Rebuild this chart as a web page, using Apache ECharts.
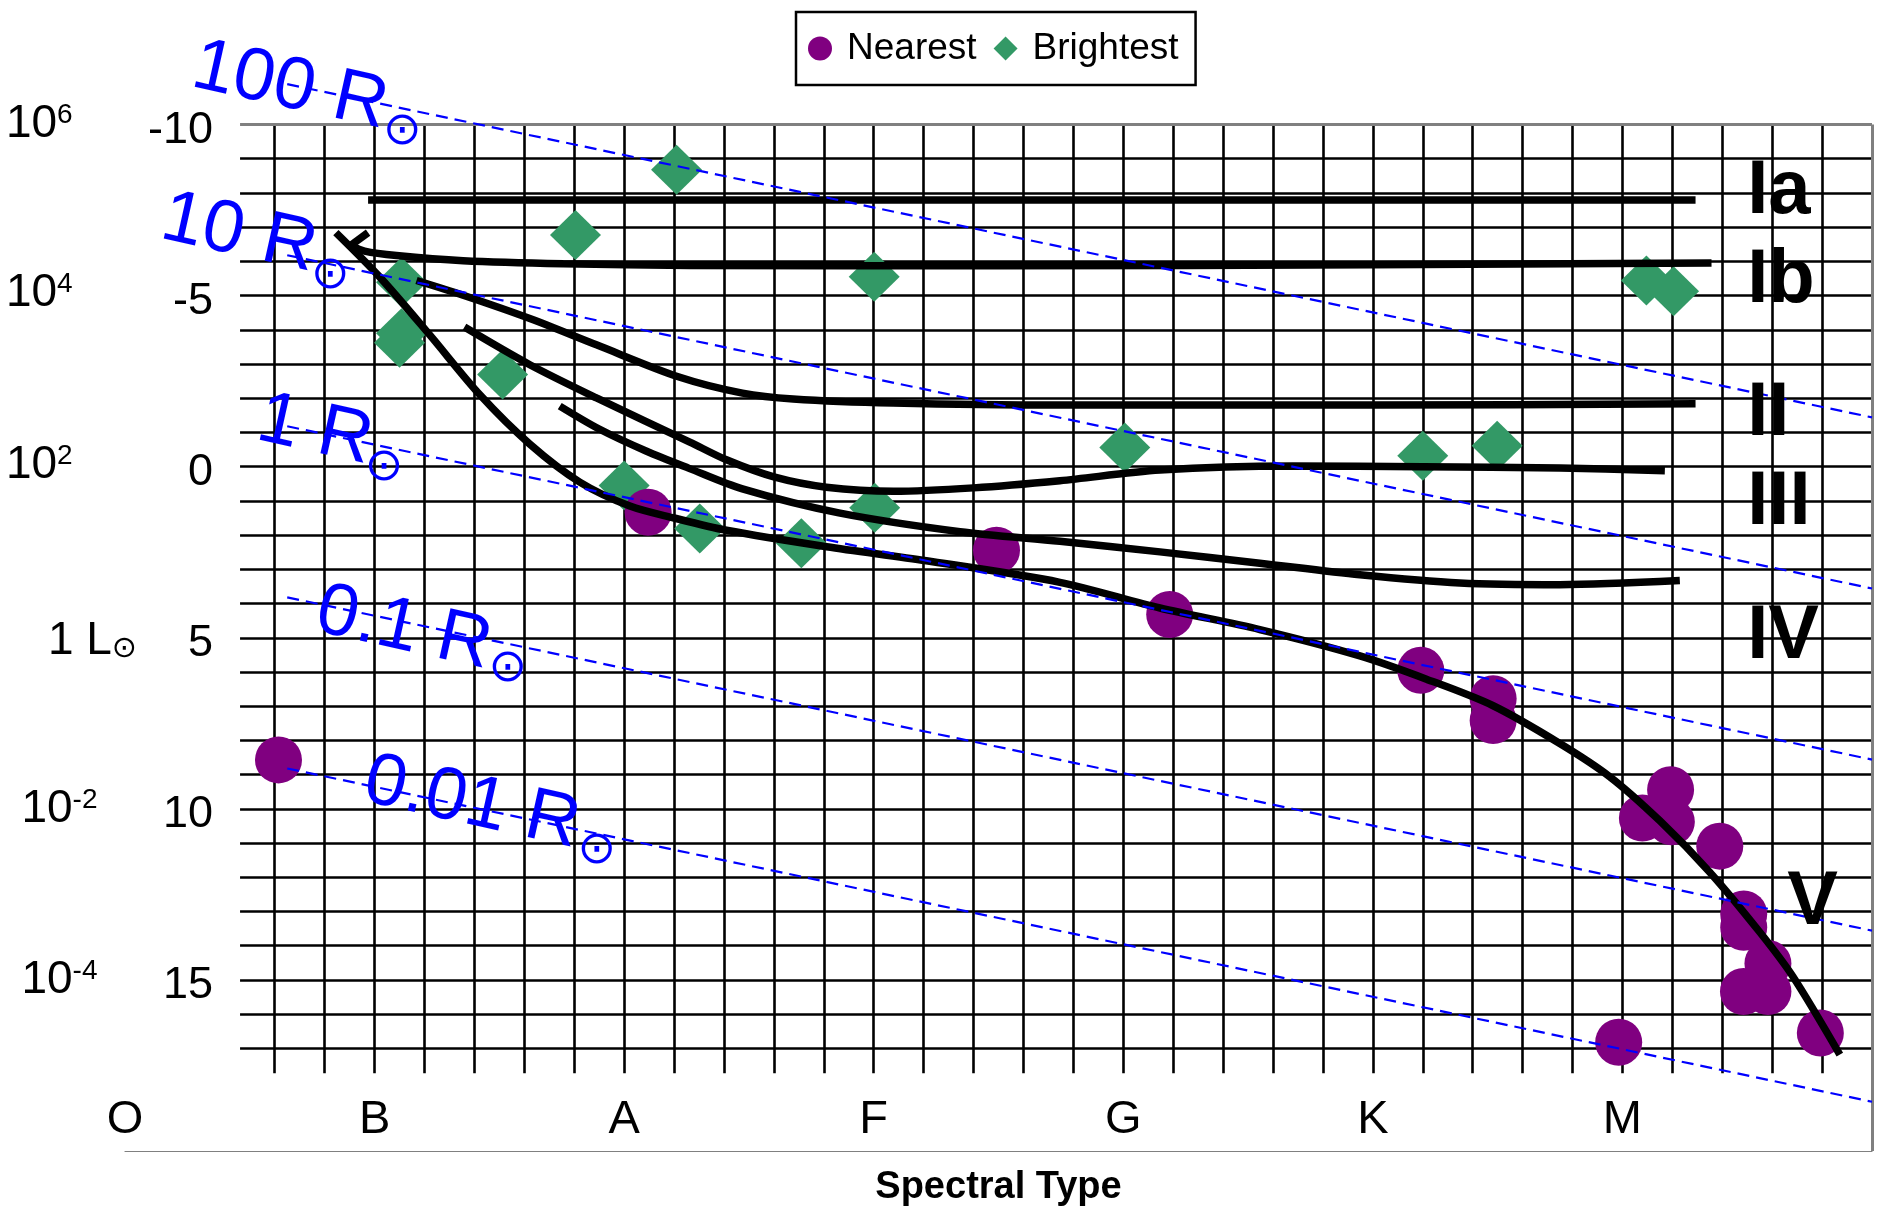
<!DOCTYPE html>
<html lang="en">
<head>
<meta charset="utf-8">
<title>Spectral Type - Magnitude</title>
<style>html,body{margin:0;padding:0;background:#fff;}</style>
</head>
<body>
<div id="main" style="width:1878px;height:1212px;"></div>
<script src="https://cdn.jsdelivr.net/npm/echarts@6/dist/echarts.min.js"></script>
<script>
// x = spectral class * 10 + subtype (O0 = 0, B0 = 10, ... M0 = 60), y = absolute magnitude
var spectralClasses = ['O', 'B', 'A', 'F', 'G', 'K', 'M'];

var nearest = [[6.15, 8.57], [20.96, 1.33], [34.92, 2.44], [41.86, 4.32], [51.92, 5.95],
    [54.82, 6.78], [54.82, 7.42], [61.93, 9.44], [60.8, 10.27], [61.96, 10.38], [63.9, 11.09],
    [64.86, 13.07], [64.86, 13.46], [65.83, 14.52], [64.85, 15.34], [65.83, 15.34],
    [67.93, 16.55], [59.85, 16.82]];

var brightest = [[22.1, -8.68], [18.05, -6.77], [30.02, -5.55], [11.08, -5.39], [11.08, -3.9],
    [11.0, -3.62], [15.13, -2.69], [20.0, 0.55], [23.03, 1.81], [27.1, 2.24], [30.04, 1.2],
    [40.06, -0.56], [52.0, -0.32], [54.98, -0.61], [60.96, -5.44], [62.05, -5.13]];

// luminosity class curves
var classIa = [[9.74, -7.79], [62.93, -7.79]];
var classIbHook = [[9.74, -6.84], [9.05, -6.47]];
var classIb = [[9.05, -6.47], [9.6, -6.3], [10.88, -6.17], [13.55, -6.02], [17.56, -5.93],
    [22.63, -5.88], [35, -5.87], [50, -5.9], [63.57, -5.95]];
var classII = [[11.68, -5.44], [13.55, -5.01], [16.22, -4.33], [18.89, -3.56], [22.2, -2.62],
    [24.74, -2.15], [26.77, -1.98], [30.78, -1.86], [37.5, -1.8], [50, -1.8], [62.93, -1.84]];
var classIII = [[13.6, -4.08], [16.22, -2.98], [18.89, -2.01], [22.63, -0.72], [24.1, -0.2],
    [26, 0.3], [28.1, 0.6], [30.8, 0.72], [34, 0.62], [37.46, 0.41], [41.47, 0.1], [46.8, -0.02],
    [52, 0], [57.5, 0.04], [61.7, 0.12]];
var classIV = [[17.42, -1.77], [19, -1.1], [20.9, -0.45], [22.6, 0.05], [24.74, 0.65],
    [28.6, 1.35], [33.46, 1.9], [37.46, 2.18], [41.47, 2.49], [45.47, 2.82], [49.48, 3.16],
    [53.49, 3.4], [57.49, 3.45], [62.3, 3.33]];
var classV = [[8.45, -6.84], [10.21, -5.54], [12.21, -3.85], [14.22, -2.1], [16.22, -0.66],
    [18.22, 0.45], [20.23, 1.15], [22, 1.5], [24.1, 1.86], [28.11, 2.34], [32.11, 2.75],
    [37.46, 3.38], [41.47, 4.13], [45.47, 4.76], [49.48, 5.53], [52.15, 6.21], [54.8, 6.98],
    [57.49, 8.09], [59.49, 9.06], [61.5, 10.35], [63.5, 11.85], [65.5, 13.6], [66.83, 14.9],
    [68.71, 17.18]];

// constant radius lines: magnitude at the start (x=6.5) and at the end (x=70)
var radiusLines = [[-11.18, -1.44], [-6.18, 3.56], [-1.18, 8.56], [3.82, 13.56], [8.82, 18.56]];

// text annotations [text, x, mag]
var radiusText = [['100 R', 6.61, -11.1], ['10 R', 4.57, -6.79], ['1 R', 7.61, -1.04],
    ['0.1 R', 11.17, 4.75], ['0.01 R', 13.9, 9.85]];
var sunMarks = [['⊙', 11.11, -9.77], ['⊙', 8.22, -5.57], ['⊙', 10.38, 0.04],
    ['⊙', 15.34, 5.91], ['⊙', 18.9, 11.22]];
var classText = [['Ia', 65, -8.04], ['Ib', 65, -5.42], ['II', 65, -1.55], ['III', 65, 1.07],
    ['IV', 65, 4.98], ['V', 66.6, 12.75]];
var lumText = [['{n|10}{s|6}', -4.77, -10.02], ['{n|10}{s|4}', -4.77, -5.06],
    ['{n|10}{s|2}', -4.77, -0.04], ['{n|1 L}{o|⊙}', -3.09, 5.1],
    ['{n|10}{s|-2}', -4.15, 10.02], ['{n|10}{s|-4}', -4.15, 15.0]];

var chart = echarts.init(document.getElementById('main'));
var font = 'Liberation Sans, Arial, sans-serif';

// chart grid drawn as segments (horizontal every magnitude, vertical every 2 subtypes)
var gridSegs = [];
for (var m = -9; m <= 17; m++) gridSegs.push({ coords: [[4.61, m], [70, m]] });
for (var x = 6; x <= 68; x += 2) gridSegs.push({ coords: [[x, -10], [x, 17.73]] });
var borderSegs = [{ coords: [[4.61, -10], [70, -10]] }, { coords: [[70, -10], [70, 20]] }];

function curve(data) {
    return {
        type: 'line', data: data, smooth: 0.3, symbol: 'none', silent: true, z: 4,
        lineStyle: { color: '#000', width: 7.5 }, emphasis: { disabled: true }
    };
}

function textSeries(items, label, z) {
    return {
        type: 'scatter', silent: true, clip: false, symbolSize: 0, z: z || 6,
        itemStyle: { color: 'transparent', opacity: 1 },
        emphasis: { disabled: true },
        label: Object.assign({
            show: true, position: 'inside', color: '#000', opacity: 1, fontFamily: font,
            formatter: function (p) { return p.name; }
        }, label),
        data: items.map(function (d) { return { name: d[0], value: [d[1], d[2]] }; })
    };
}

var series = [
    {
        type: 'lines', coordinateSystem: 'cartesian2d', silent: true, z: 1, data: gridSegs,
        lineStyle: { color: '#000', width: 2.6, opacity: 1 }
    },
    {
        type: 'lines', coordinateSystem: 'cartesian2d', silent: true, z: 1, data: borderSegs,
        lineStyle: { color: '#808080', width: 3, opacity: 1 }
    },
    {
        name: 'Brightest', type: 'scatter', symbol: 'diamond', symbolSize: [51, 50], z: 2,
        itemStyle: { color: '#339966', opacity: 1 }, data: brightest
    },
    {
        name: 'Nearest', type: 'scatter', symbol: 'circle', symbolSize: 47, z: 3,
        itemStyle: { color: '#800080', opacity: 1 }, data: nearest
    },
    curve(classIa), curve(classIb), curve(classII), curve(classIII), curve(classIV), curve(classV),
    {
        type: 'lines', coordinateSystem: 'cartesian2d', silent: true, z: 4,
        data: [{ coords: classIbHook }],
        lineStyle: { color: '#000', width: 7.5, opacity: 1 }
    },
    {
        type: 'lines', coordinateSystem: 'cartesian2d', silent: true, z: 5, clip: false,
        data: radiusLines.map(function (r) { return { coords: [[6.5, r[0]], [70, r[1]]] }; }),
        lineStyle: { color: '#0000FF', width: 2.2, type: [12, 7], opacity: 1 }
    },
    textSeries(radiusText, { color: '#0000FF', fontSize: 74, rotate: -12.5 }),
    textSeries(sunMarks, { color: '#0000FF', fontSize: 46, fontFamily: 'DejaVu Sans' }),
    textSeries(classText, { fontSize: 76, fontWeight: 'bold', align: 'left' }),
    textSeries(lumText, {
        align: 'left',
        rich: {
            n: { fontSize: 46, fontFamily: font, color: '#000' },
            s: { fontSize: 28, fontFamily: font, color: '#000', verticalAlign: 'top' },
            o: { fontSize: 30, fontFamily: 'DejaVu Sans', color: '#000', verticalAlign: 'bottom' }
        }
    })
];

var option = {
    animation: false,
    backgroundColor: '#fff',
    legend: {
        data: ['Nearest', 'Brightest'],
        left: 796, top: 12,
        orient: 'horizontal',
        itemWidth: 24, itemHeight: 24, itemGap: 17,
        padding: [18, 17, 18, 12],
        borderColor: '#000', borderWidth: 2.5,
        textStyle: { fontSize: 37, color: '#000', fontFamily: font, padding: [0, 0, 0, 10] }
    },
    grid: { left: 125, right: 6, top: 124.5, bottom: 53, containLabel: false },
    xAxis: {
        type: 'value', min: 0, max: 70, interval: 10,
        name: 'Spectral Type', nameLocation: 'middle', nameGap: 18,
        nameTextStyle: { fontSize: 38, fontWeight: 'bold', color: '#000', fontFamily: font },
        axisLine: { show: true, onZero: false, lineStyle: { color: '#808080', width: 1.2 } },
        axisTick: { show: false },
        splitLine: { show: false },
        axisLabel: {
            inside: true, margin: 7, fontSize: 47, color: '#000', fontFamily: font,
            formatter: function (v) { return spectralClasses[v / 10] || ''; }
        }
    },
    yAxis: {
        type: 'value', inverse: true, min: -10, max: 20, interval: 5,
        offset: -88,
        axisLine: { show: false }, axisTick: { show: false }, splitLine: { show: false },
        axisLabel: {
            margin: 0, color: '#000',
            formatter: function (v) { return v === 20 ? '' : '{v|' + v + '}'; },
            rich: { v: { fontSize: 45, color: '#000', fontFamily: font, padding: [12, 0, 0, 0] } }
        }
    },
    series: series
};
chart.setOption(option);
</script>
</body>
</html>
